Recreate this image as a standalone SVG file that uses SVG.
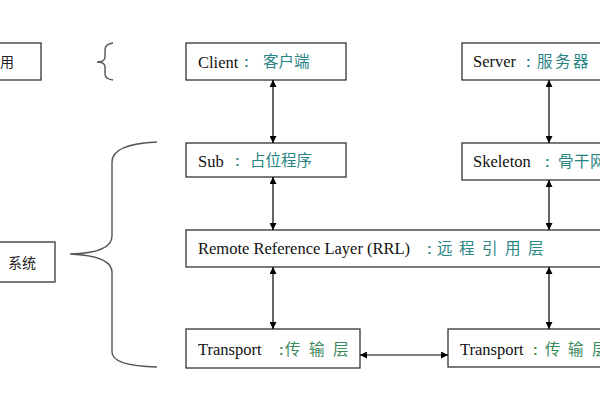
<svg xmlns="http://www.w3.org/2000/svg" width="600" height="400" viewBox="0 0 600 400">
<defs>
<marker id="ah" viewBox="0 0 10 10" refX="10" refY="5" markerWidth="7" markerHeight="7" markerUnits="userSpaceOnUse" orient="auto-start-reverse">
<path d="M0,0 L10,5 L0,10 Z" fill="#000"/>
</marker>
<style>
.box{fill:#fff;stroke:#333;stroke-width:1.3}
.en{font-family:"Liberation Serif","Noto Serif CJK SC",serif;font-size:16.5px;fill:#111}
.col{font-family:"Liberation Sans",sans-serif;font-weight:bold;font-size:14px;fill:#2a8585}
.colg{font-family:"Liberation Sans",sans-serif;font-weight:bold;font-size:14px;fill:#3a8a5a}
.cn{font-family:"Noto Sans CJK SC",sans-serif;font-size:15.5px;fill:#2a8585}
.gr{font-family:"Noto Sans CJK SC",sans-serif;font-size:15.5px;fill:#3a8a5a}
.lb{font-family:"Noto Sans CJK SC",sans-serif;font-size:14px;fill:#222}
.conn{stroke:#000;stroke-width:1.2;fill:none;marker-start:url(#ah);marker-end:url(#ah)}
.brace{stroke:#555;stroke-width:1.4;fill:none}
</style>
</defs>

<g id="label-app">
<rect class="box" x="-20" y="43" width="61" height="37"/>
<text class="lb" x="0" y="67">用</text>
</g>
<g id="label-system">
<rect class="box" x="-20" y="242" width="75" height="40"/>
<text class="lb" x="8" y="268">系统</text>
</g>

<g id="braces">
<path class="brace" d="M113,43 Q105,44 105,50 L105,57 Q105,62 97,62 Q105,62 105,67 L105,74 Q105,79 113,80"/>
<path class="brace" d="M157,142 Q112,144 112,162 L112,236 Q112,253 70,254 Q112,256 112,272 L112,352 Q112,366 157,367"/>
</g>

<g id="client">
<rect class="box" x="186" y="43" width="160" height="37"/>
<text class="en" x="198" y="68">Client</text>
<text class="col" x="244" y="67">:</text>
<text class="cn" x="263" y="67">客户端</text>
</g>
<g id="server">
<rect class="box" x="462" y="43" width="150" height="37"/>
<text class="en" x="473" y="67">Server</text>
<text class="col" x="526" y="67">:</text>
<text class="cn" x="537 555 573" y="67">服务器</text>
</g>
<g id="sub">
<rect class="box" x="186" y="143" width="160" height="34"/>
<text class="en" x="198" y="167">Sub</text>
<text class="col" x="235" y="166">:</text>
<text class="cn" x="250" y="166">占位程序</text>
</g>
<g id="skeleton">
<rect class="box" x="462" y="143" width="150" height="37"/>
<text class="en" x="473" y="167">Skeleton</text>
<text class="col" x="545" y="167">:</text>
<text class="cn" x="558 574 590" y="167">骨干网</text>
</g>
<g id="rrl">
<rect class="box" x="186" y="230" width="430" height="37"/>
<text class="en" x="198" y="254">Remote Reference Layer (RRL)</text>
<text class="col" x="427" y="254">:</text>
<text class="cn" x="437 459 482 505 528" y="254">远程引用层</text>
</g>
<g id="transport-left">
<rect class="box" x="186" y="329" width="174" height="39"/>
<text class="en" x="198" y="355">Transport</text>
<text class="colg" x="279" y="355">:</text>
<text class="gr" x="285 309 333" y="355">传输层</text>
</g>
<g id="transport-right">
<rect class="box" x="448" y="329" width="170" height="38"/>
<text class="en" x="460" y="355">Transport</text>
<text class="colg" x="533" y="355">:</text>
<text class="gr" x="545 568 592" y="355">传输层</text>
</g>

<g id="connectors">
<line class="conn" x1="273" y1="80" x2="273" y2="143"/>
<line class="conn" x1="273" y1="177" x2="273" y2="230"/>
<line class="conn" x1="273" y1="267" x2="273" y2="329"/>
<line class="conn" x1="549" y1="80" x2="549" y2="143"/>
<line class="conn" x1="549" y1="180" x2="549" y2="230"/>
<line class="conn" x1="549" y1="267" x2="549" y2="329"/>
<line class="conn" x1="360" y1="355" x2="448" y2="355"/>
</g>
</svg>
